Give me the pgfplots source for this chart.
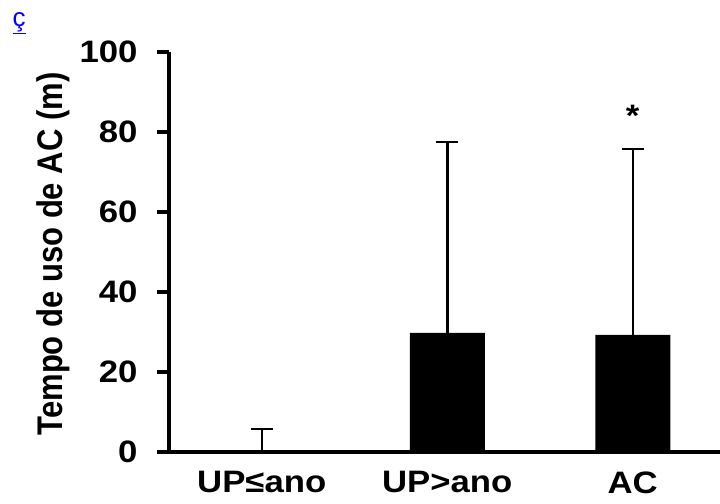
\documentclass[border=0pt]{standalone}
\usepackage{graphicx}
\usepackage{pgfplots}
\pgfplotsset{compat=1.18}
\usepackage{fontspec}
\setmainfont{Liberation Sans}
\newfontfamily\wide[FakeStretch=1.12]{Liberation Sans}
\begin{document}
\begin{tikzpicture}
\useasboundingbox (0,0) rectangle (720bp,504bp);
\fill[white] (0,0) rectangle (720bp,504bp);
\node[text=blue, font=\fontsize{26bp}{28bp}\selectfont, anchor=center] at (19bp,481bp) {\underline{ç}};
\begin{axis}[
  at={(169bp,52bp)}, anchor=south west,
  scale only axis, width=556.5bp, height=400bp,
  xmin=-0.5, xmax=2.5, ymin=0, ymax=100,
  axis x line=bottom, axis y line=left,
  axis line style={-, line width=4bp, black},
  ytick={0,20,40,60,80,100},
  xtick={0,1,2},
  xticklabels={UP≤ano, UP>ano, AC},
  tick align=outside,
  major tick length=12bp,
  ytick style={line width=3.5bp, black},
  xtick style={draw=none},
  /pgf/number format/assume math mode=true,
  ticklabel style={font=\wide\bfseries\fontsize{31bp}{37bp}\selectfont},
  yticklabel style={xshift=-16bp},
  xticklabel style={yshift=-4bp},
  ylabel={\scalebox{1}[1.15]{Tempo de uso de AC (m)}},
  every axis y label/.style={at={(axis description cs:-0.208,0.495)}, anchor=center, rotate=90,
    font=\bfseries\fontsize{31bp}{37bp}\selectfont},
  ybar, bar width=75bp,
]
\addplot+[fill=black, draw=none,
  error bars/.cd, y dir=plus, y explicit,
  error bar style={line width=2.5bp, black},
  error mark options={rotate=90, mark size=11bp, line width=2.5bp, black}]
  coordinates {
  (0,0) +- (0,5.75)
  (1,29.75) +- (0,47.75)
  (2,29.25) +- (0,46.5)
  };
\node[anchor=base, font=\wide\bfseries\fontsize{31bp}{37bp}\selectfont] at (axis cs:2,81.3) {*};
\end{axis}
\end{tikzpicture}
\end{document}
